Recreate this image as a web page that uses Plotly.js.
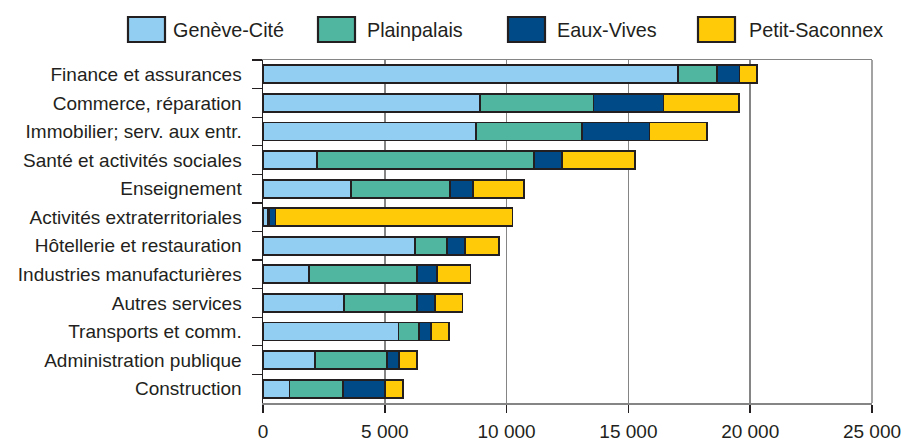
<!DOCTYPE html>
<html>
<head>
<meta charset="utf-8">
<script src="https://cdn.plot.ly/plotly-3.0.1.min.js"></script>
<style>html,body{margin:0;padding:0;background:#fff;}#chart{width:902px;height:441px;}</style>
</head>
<body>
<div id="chart"></div>
<script>
const categories = [
  "Finance et assurances",
  "Commerce, réparation",
  "Immobilier; serv. aux entr.",
  "Santé et activités sociales",
  "Enseignement",
  "Activités extraterritoriales",
  "Hôtellerie et restauration",
  "Industries manufacturières",
  "Autres services",
  "Transports et comm.",
  "Administration publique",
  "Construction"
];
const seriesNames = ["Genève-Cité", "Plainpalais", "Eaux-Vives", "Petit-Saconnex"];
const geneveCite    = [17030, 8920, 8760, 2230, 3620, 220, 6230, 1900, 3330, 5560, 2150, 1090];
const plainpalais   = [1610, 4650, 4320, 8880, 4070, 20, 1310, 4410, 2980, 830, 2940, 2190];
const eauxVives     = [920, 2870, 2790, 1160, 930, 270, 740, 830, 750, 490, 490, 1720];
const petitSaconnex = [730, 3090, 2350, 3010, 2090, 9730, 1410, 1380, 1130, 740, 750, 750];
const tickVals = [0, 5000, 10000, 15000, 20000, 25000];
const tickText = ["0", "5 000", "10 000", "15 000", "20 000", "25 000"];

const colors = ["#92cef1", "#50b6a0", "#004b87", "#ffca08"];
const seriesValues = [geneveCite, plainpalais, eauxVives, petitSaconnex];
const textColor = "#231f20";
const fontFamily = "'Liberation Sans', Arial, sans-serif";

const traces = seriesValues.map((vals, i) => ({
  type: "bar",
  orientation: "h",
  name: seriesNames[i],
  y: categories,
  x: vals,
  marker: {color: colors[i], line: {color: "#231f20", width: 1.8}},
  showlegend: false,
  hoverinfo: "x+name"
}));

// plot area in pixels
const W = 902, H = 441;
const mL = 263, mR = 30, mT = 60, mB = 38;
const plotW = W - mL - mR, plotH = H - mT - mB;
const px2x = p => (p - mL) / plotW;
const px2y = p => (H - mB - p) / plotH;

// legend (drawn as shapes and text)
const swatchLeft = [128, 318, 508, 698];
const textLeft = [171, 365, 555, 747];
const shapes = [
  // right frame line (gridline at the range end)
  {type: "line", xref: "paper", yref: "paper", x0: 1, x1: 1, y0: 0, y1: 1,
   line: {color: "#858585", width: 1.5}, layer: "below"}
];
const annotations = [];
seriesNames.forEach((n, i) => {
  shapes.push({
    type: "rect", xref: "paper", yref: "paper",
    x0: px2x(swatchLeft[i]), x1: px2x(swatchLeft[i] + 37),
    y0: px2y(42), y1: px2y(17),
    fillcolor: colors[i], line: {color: "#231f20", width: 2.2}
  });
  annotations.push({
    xref: "paper", yref: "paper",
    x: px2x(textLeft[i]), y: px2y(30),
    xanchor: "left", yanchor: "middle",
    text: n, showarrow: false,
    font: {family: fontFamily, size: 19.8, color: textColor}
  });
});

const layout = {
  width: W, height: H,
  margin: {l: mL, r: mR, t: mT, b: mB, pad: 0},
  paper_bgcolor: "#ffffff",
  plot_bgcolor: "#ffffff",
  barmode: "stack",
  bargap: 0.37,
  font: {family: fontFamily, size: 19, color: textColor},
  xaxis: {
    range: [0, 25000],
    tickvals: tickVals,
    ticktext: tickText,
    showgrid: true, gridcolor: "#858585", gridwidth: 1.5,
    zeroline: false,
    showline: true, linecolor: "#858585", linewidth: 1.5, mirror: true,
    ticks: "outside", ticklen: 8, tickwidth: 1.5, tickcolor: "#231f20",
    ticklabelstandoff: 3,
    tickfont: {family: fontFamily, size: 19, color: textColor},
    fixedrange: true
  },
  yaxis: {
    type: "category",
    autorange: "reversed",
    tickson: "boundaries",
    ticks: "outside", ticklen: 10, tickwidth: 1.2, tickcolor: "#231f20",
    showline: true, linecolor: "#231f20", linewidth: 1.5,
    showgrid: false, zeroline: false,
    ticklabelstandoff: 16,
    tickfont: {family: fontFamily, size: 19, color: textColor},
    fixedrange: true
  },
  shapes: shapes,
  annotations: annotations
};

Plotly.newPlot("chart", traces, layout, {displayModeBar: false, staticPlot: true});
</script>
</body>
</html>
